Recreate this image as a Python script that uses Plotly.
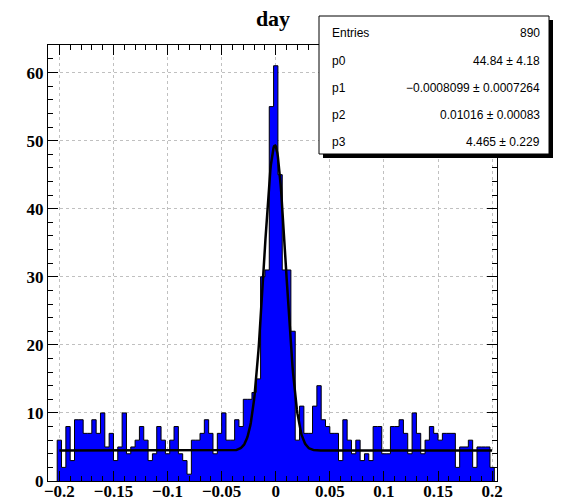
import numpy as np
import plotly.graph_objects as go

# Histogram "day": 101 bins of width 0.004 centred on -0.200 ... 0.200
x_low, x_high, bin_width = -0.2, 0.2, 0.004
counts = [
    6, 2, 8, 3, 9, 9, 7, 7, 9, 7, 10, 5, 7, 3, 5, 10, 4, 5,
    6, 8, 6, 3, 4, 8, 6, 4, 6, 8, 4, 3, 1, 6, 6, 7, 9, 7, 4, 7,
    10, 6, 6, 9, 8, 12, 12, 13, 15, 30, 31, 55, 61, 45, 31, 31, 22, 6,
    11, 7, 7, 11, 14,
    9, 8, 7, 7, 3, 9, 6, 4, 6, 3, 4, 3, 8, 8, 4, 4, 8,
    8, 9, 7, 4, 10, 7, 4, 6, 8, 7, 6, 7, 7, 7, 2, 5, 5, 6, 2, 5, 5, 5, 2,
]
entries = 890

# Fit: gaus(0) + pol0(3)
par_names = ["p0", "p1", "p2", "p3"]
par_values = [44.84, -0.0008099, 0.01016, 4.465]
par_errors = ["4.18", "0.0007264", "0.00083", "0.229"]
par_labels = ["44.84", "\u22120.0008099", "0.01016", "4.465"]

n_bins = len(counts)
centers = x_low + bin_width * np.arange(n_bins)
edges = np.append(centers - bin_width / 2, centers[-1] + bin_width / 2)

# Step outline of the histogram (filled to zero)
step_x = np.concatenate([[edges[0]], edges[:-1], [edges[-1], edges[-1]]])
step_y = np.concatenate([[0], counts, [counts[-1], 0]])

p0, p1, p2, p3 = par_values
fx = np.linspace(x_low, x_high, 801)
fy = p0 * np.exp(-0.5 * ((fx - p1) / p2) ** 2) + p3

W, H = 565, 502
L, R, T, B = 48, 497, 45, 481


def px(x):
    return (x - L) / (R - L)


def py(y):
    return (B - y) / (B - T)


fig = go.Figure()
fig.add_trace(go.Scatter(
    x=step_x, y=step_y, mode="lines", line_shape="hv",
    line=dict(color="black", width=1), fill="tozeroy",
    fillcolor="#0000ff", hoverinfo="skip", showlegend=False,
))
fig.add_trace(go.Scatter(
    x=fx, y=fy, mode="lines", line=dict(color="black", width=2.5),
    hoverinfo="skip", showlegend=False,
))

tick_font = dict(family="Liberation Serif", size=17, color="black", weight="bold")
axis_common = dict(
    ticks="inside", ticklen=10, tickwidth=1, tickcolor="black",
    showline=True, linecolor="black", linewidth=1, mirror="allticks",
    showgrid=True, gridcolor="#c0c0c0", griddash="dot", gridwidth=1,
    zeroline=False, tickfont=tick_font, automargin=False,
)
fig.update_xaxes(
    range=[-0.2105, 0.2045], tickmode="linear", tick0=0, dtick=0.05,
    minor=dict(dtick=0.01, tick0=0, ticks="inside", ticklen=5,
               tickcolor="black", showgrid=False),
    ticklabelstandoff=-5,
    **axis_common,
)
fig.update_yaxes(
    range=[0, max(counts) * 1.05], tickmode="linear", tick0=0, dtick=10,
    minor=dict(dtick=2, tick0=0, ticks="inside", ticklen=5,
               tickcolor="black", showgrid=False),
    **axis_common,
)

# Statistics box with shadow
bx0, by0, bx1, by1 = 319, 16, 549, 154
shapes = [
    dict(type="rect", xref="paper", yref="paper", layer="above",
         x0=px(bx0 + 4), x1=px(bx1 + 4), y0=py(by1 + 4), y1=py(by0 + 4),
         fillcolor="black", line=dict(width=0)),
    dict(type="rect", xref="paper", yref="paper", layer="above",
         x0=px(bx0), x1=px(bx1), y0=py(by1), y1=py(by0),
         fillcolor="white", line=dict(color="black", width=1)),
]
stat_font = dict(family="Liberation Sans", size=12, color="black")
rows_left = ["Entries"] + par_names
rows_right = [str(entries)] + [
    f"{v} \u00b1 {e}" for v, e in zip(par_labels, par_errors)
]
row_y = [33, 61, 88, 115, 142]
annotations = []
for name, val, yy in zip(rows_left, rows_right, row_y):
    annotations.append(dict(
        x=px(330), y=py(yy), xref="paper", yref="paper", text=name,
        showarrow=False, xanchor="left", yanchor="middle", font=stat_font))
    annotations.append(dict(
        x=px(542), y=py(yy), xref="paper", yref="paper", text=val,
        showarrow=False, xanchor="right", yanchor="middle", font=stat_font))

fig.update_layout(
    width=W, height=H,
    margin=dict(l=L, r=W - R, t=T, b=H - B, pad=0, autoexpand=False),
    paper_bgcolor="white", plot_bgcolor="white",
    title=dict(text="day", x=px(273), xref="paper", y=1 - 18 / H,
               xanchor="center", yanchor="middle",
               font=dict(family="Liberation Serif", size=22, color="black",
                         weight="bold")),
    shapes=shapes, annotations=annotations, showlegend=False,
)

fig.write_html("out.html")
